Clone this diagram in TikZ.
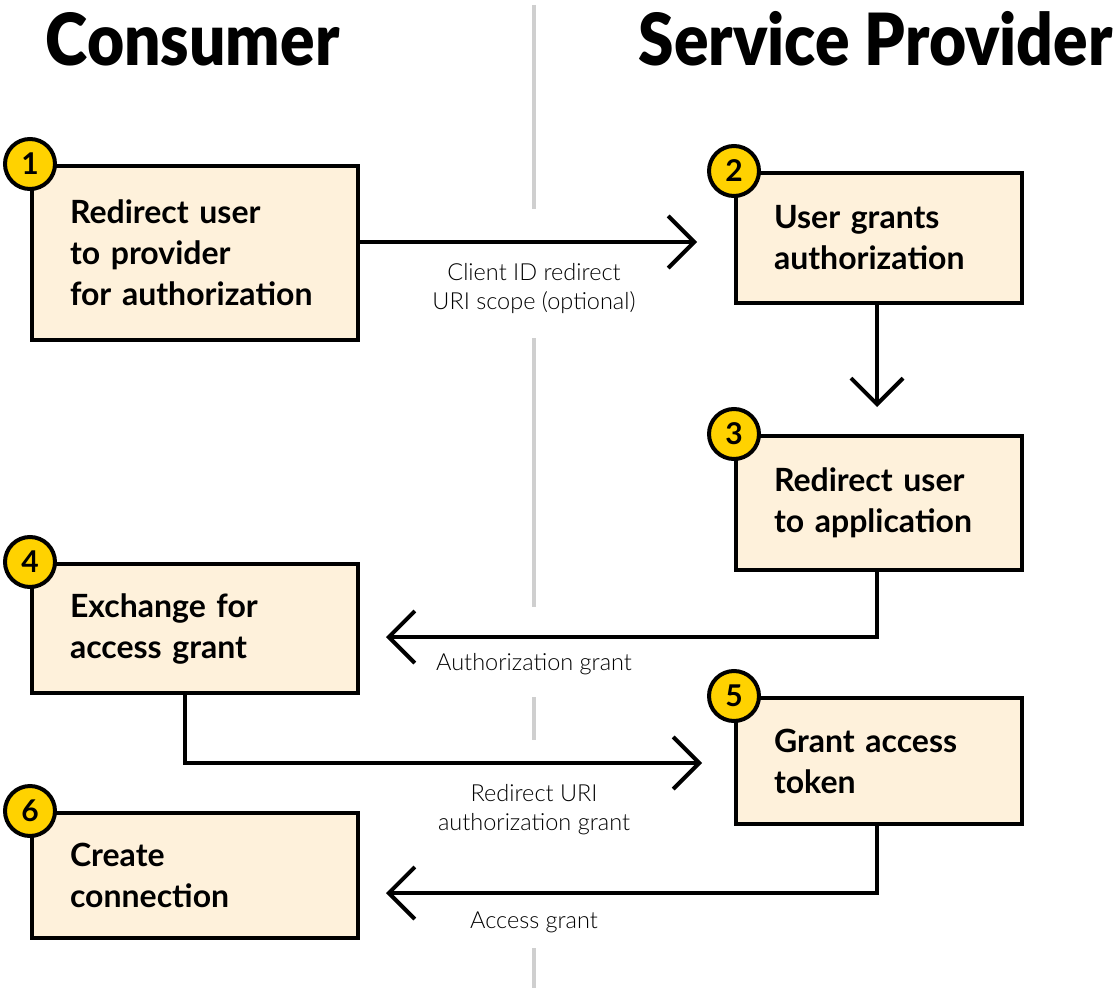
\documentclass[tikz,border=0pt]{standalone}
\usepackage{fontspec}
\setmainfont{Lato}
\IfFontExistsTF{Lato Black}{\newfontfamily\titlefont{Lato Black}[FakeStretch=0.89]}{\newfontfamily\titlefont{Lato}[FakeStretch=0.92, UprightFont=*, BoldFont=*]}
\IfFontExistsTF{Lato Light}{\newfontfamily\labelfont{Lato Light}}{\newcommand\labelfont{}}
\usetikzlibrary{arrows.meta}
\definecolor{boxfill}{HTML}{FEF1DB}
\definecolor{badgefill}{HTML}{FFD200}
\definecolor{divgray}{HTML}{CFCFCF}
\tikzset{
  stepbox/.style={draw=black, line width=4pt, fill=boxfill, inner xsep=0pt, inner ysep=0pt,
    align=left, font=\fontsize{32}{41}\selectfont\bfseries},
  leftbox/.style={stepbox, minimum width=326pt, text width=250pt},
  rightbox/.style={stepbox, minimum width=286pt, text width=210pt},
  badge/.style={circle, draw=black, line width=4pt, fill=badgefill, minimum size=50pt, inner sep=0pt,
    font=\fontsize{30}{30}\selectfont\bfseries},
  conn/.style={line width=4pt, -{Straight Barb[length=26pt, width=52pt]}},
  divider/.style={line width=4pt, draw=divgray},
  lbl/.style={align=center, inner sep=0pt, font=\fontsize{23.5}{29}\selectfont\labelfont},
  titletext/.style={inner sep=0pt, font=\fontsize{72}{72}\selectfont\titlefont}
}
\begin{document}
\begin{tikzpicture}[x=1pt, y=-1pt]
\useasboundingbox (0,0) rectangle (1113,1003);
% divider
\draw[divider] (534,5) -- (534,209);
\draw[divider] (534,338) -- (534,607);
\draw[divider] (534,697) -- (534,740);
\draw[divider] (534,948) -- (534,988);
% titles
\node[titletext, anchor=base] (tc) at (192.5,66) {Consumer};
\node[titletext, anchor=base] (tp) at (875.5,66) {Service Provider};
% boxes
\node[leftbox, minimum height=174pt] (b1) at (195,253) {Redirect user\\to provider\\for authorization};
\node[rightbox, minimum height=130pt] (b2) at (879,238) {User grants\\authorization};
\node[rightbox, minimum height=134pt] (b3) at (879,503) {Redirect user\\to application};
\node[leftbox, minimum height=129pt] (b4) at (195,628.5) {Exchange for\\access grant};
\node[rightbox, minimum height=126pt] (b5) at (879,761) {Grant access\\token};
\node[leftbox, minimum height=125pt] (b6) at (195,875.5) {Create\\connection};
% badges
\node[badge] (n1) at (b1.north west) {1};
\node[badge] (n2) at (b2.north west) {2};
\node[badge] (n3) at (b3.north west) {3};
\node[badge] (n4) at (b4.north west) {4};
\node[badge] (n5) at (b5.north west) {5};
\node[badge] (n6) at (b6.north west) {6};
% connectors
\coordinate (t12) at (697,242);
\draw[conn] (b1.east |- t12) -- (t12);
\draw[conn, shorten >=27pt] ([xshift=-2pt]b2.south) -- ([xshift=-2pt]b3.north);
\coordinate (t34) at (386,637);
\draw[conn] ([xshift=-2pt]b3.south) |- (t34);
\coordinate (t45) at (702,763);
\draw[conn] ([xshift=-10pt]b4.south) |- (t45);
\coordinate (t56) at (386,893);
\draw[conn] ([xshift=-2pt]b5.south) |- (t56);
% labels
\node[lbl, anchor=north] (l12) at (534,263) {Client ID redirect\\URI scope (optional)};
\node[lbl, anchor=base] (l34) at (534,670) {Authorization grant};
\node[lbl, anchor=north] (l45) at (534,784) {Redirect URI\\authorization grant};
\node[lbl, anchor=base] (l56) at (534,928) {Access grant};
\end{tikzpicture}
\end{document}
